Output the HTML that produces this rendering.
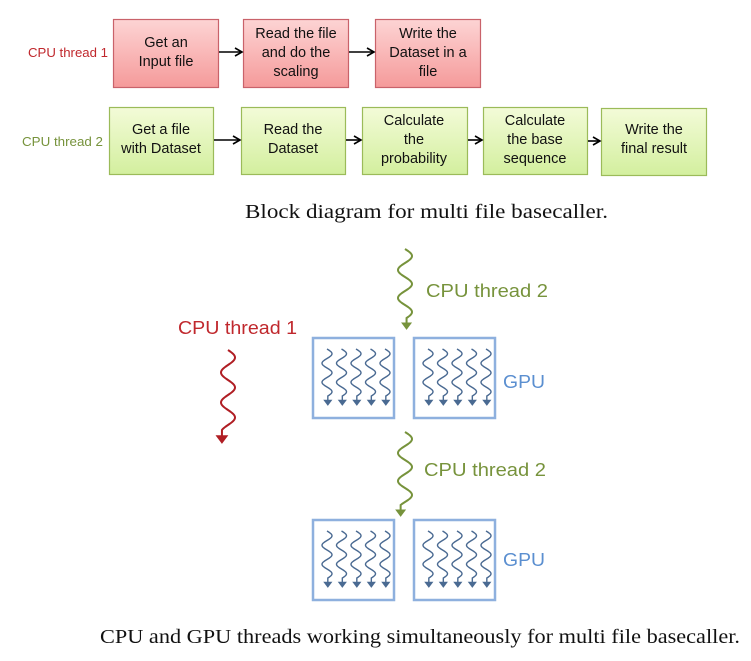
<!DOCTYPE html>
<html><head><meta charset="utf-8">
<style>
html,body{margin:0;padding:0;background:#fff;}
svg{display:block;}
.bt{font-family:"Liberation Sans",sans-serif;font-size:14.5px;fill:#111;text-anchor:middle;}
.cap{font-family:"Liberation Serif",serif;font-size:19.5px;fill:#111;}
</style></head>
<body>
<svg id="s" width="751" height="661" viewBox="0 0 751 661" xmlns="http://www.w3.org/2000/svg">
<defs>
<linearGradient id="gr" x1="0" y1="0" x2="0" y2="1"><stop offset="0" stop-color="#fdd4d4"/><stop offset="1" stop-color="#f59a9a"/></linearGradient>
<linearGradient id="gg" x1="0" y1="0" x2="0" y2="1"><stop offset="0" stop-color="#f3fbd8"/><stop offset="1" stop-color="#d3ef9e"/></linearGradient>
<marker id="ah" markerWidth="10" markerHeight="10" refX="8" refY="5" orient="auto" markerUnits="userSpaceOnUse"><path d="M1,1 L8,5 L1,9" fill="none" stroke="#000" stroke-width="1.6"/></marker>
</defs>
<text x="28" y="57" font-family="Liberation Sans,sans-serif" font-size="13" fill="#c0282d" textLength="80" lengthAdjust="spacingAndGlyphs">CPU thread 1</text>
<text x="22" y="146" font-family="Liberation Sans,sans-serif" font-size="13" fill="#77933c" textLength="81" lengthAdjust="spacingAndGlyphs">CPU thread 2</text>
<g stroke="#c9626a" stroke-width="1.2" fill="url(#gr)">
<rect x="113.5" y="19.5" width="105" height="68"/>
<rect x="243.5" y="19.5" width="105" height="68"/>
<rect x="375.5" y="19.5" width="105" height="68"/>
</g>
<g stroke="#9bbb59" stroke-width="1.2" fill="url(#gg)">
<rect x="109.5" y="107.5" width="104" height="67"/>
<rect x="241.5" y="107.5" width="104" height="67"/>
<rect x="362.5" y="107.5" width="105" height="67"/>
<rect x="483.5" y="107.5" width="104" height="67"/>
<rect x="601.5" y="108.5" width="105" height="67"/>
</g>
<g stroke="#000" stroke-width="1.6" marker-end="url(#ah)">
<line x1="219" y1="52" x2="242" y2="52"/>
<line x1="349" y1="52" x2="374" y2="52"/>
<line x1="214" y1="140" x2="240" y2="140"/>
<line x1="346" y1="140" x2="361" y2="140"/>
<line x1="468" y1="140" x2="482" y2="140"/>
<line x1="588" y1="141" x2="600" y2="141"/>
</g>
<text class="bt" x="166" y="47">Get an</text><text class="bt" x="166" y="66">Input file</text>
<text class="bt" x="296" y="38">Read the file</text><text class="bt" x="296" y="57">and do the</text><text class="bt" x="296" y="76">scaling</text>
<text class="bt" x="428" y="38">Write the</text><text class="bt" x="428" y="57">Dataset in a</text><text class="bt" x="428" y="76">file</text>
<text class="bt" x="161" y="134">Get a file</text><text class="bt" x="161" y="153">with Dataset</text>
<text class="bt" x="293" y="134">Read the</text><text class="bt" x="293" y="153">Dataset</text>
<text class="bt" x="414" y="125">Calculate</text><text class="bt" x="414" y="144">the</text><text class="bt" x="414" y="163">probability</text>
<text class="bt" x="535" y="125">Calculate</text><text class="bt" x="535" y="144">the base</text><text class="bt" x="535" y="163">sequence</text>
<text class="bt" x="654" y="134">Write the</text><text class="bt" x="654" y="153">final result</text>
<text class="cap" x="245" y="218" textLength="363" lengthAdjust="spacingAndGlyphs">Block diagram for multi file basecaller.</text>

<text x="426" y="297" font-family="Liberation Sans,sans-serif" font-size="18" fill="#77933c" textLength="122" lengthAdjust="spacingAndGlyphs">CPU thread 2</text>
<text x="178" y="334" font-family="Liberation Sans,sans-serif" font-size="18" fill="#c0282d" textLength="119" lengthAdjust="spacingAndGlyphs">CPU thread 1</text>
<text x="424" y="476" font-family="Liberation Sans,sans-serif" font-size="18" fill="#77933c" textLength="122" lengthAdjust="spacingAndGlyphs">CPU thread 2</text>
<text x="503" y="388" font-family="Liberation Sans,sans-serif" font-size="18" fill="#5b8fd0" textLength="42" lengthAdjust="spacingAndGlyphs">GPU</text>
<text x="503" y="566" font-family="Liberation Sans,sans-serif" font-size="18" fill="#5b8fd0" textLength="42" lengthAdjust="spacingAndGlyphs">GPU</text>
<g fill="#fff" stroke="#8eb0de" stroke-width="2.5">
<rect x="313" y="338" width="81" height="80"/>
<rect x="414" y="338" width="81" height="80"/>
<rect x="313" y="520" width="81" height="80"/>
<rect x="414" y="520" width="81" height="80"/>
</g>
<g id="w"></g>
<text class="cap" x="100" y="643" textLength="640" lengthAdjust="spacingAndGlyphs">CPU and GPU threads working simultaneously for multi file basecaller.</text>
</svg>
<script>
var g=document.getElementById('w'),NS='http://www.w3.org/2000/svg';
function wave(x,y0,y1,amp,per,col,sw,ah){
  var d='M'+x+','+y0,n=Math.round((y1-y0)*2);
  for(var i=1;i<=n;i++){var y=y0+(y1-y0)*i/n;var xx=x+amp*Math.sin((y-y0)/per*2*Math.PI);d+=' L'+xx.toFixed(2)+','+y.toFixed(2);}
  var xe=x+amp*Math.sin((y1-y0)/per*2*Math.PI);
  d+=' L'+xe.toFixed(2)+','+(y1+ah);
  var p=document.createElementNS(NS,'path');p.setAttribute('d',d);p.setAttribute('fill','none');p.setAttribute('stroke',col);p.setAttribute('stroke-width',sw);g.appendChild(p);
  var a=document.createElementNS(NS,'path');var ty=y1+ah+1;
  a.setAttribute('d','M'+(xe-ah*0.45)+','+(ty-ah*0.6)+' L'+xe+','+ty+' L'+(xe+ah*0.45)+','+(ty-ah*0.6)+'Z');
  a.setAttribute('fill',col);a.setAttribute('stroke',col);a.setAttribute('stroke-width',1);g.appendChild(a);
}
wave(405,249,318,7,28,'#77933c',2,10);
wave(405,432,505,7,28,'#77933c',2,10);
wave(228,350,430,7,30,'#b01e24',2,12);
[[313,338],[414,338],[313,520],[414,520]].forEach(function(b){
  for(var k=0;k<5;k++){wave(b[0]+14+k*14.5,b[1]+11,b[1]+58,5,19,'#4a6a92',1.4,8);}
});
</script>
</body></html>
